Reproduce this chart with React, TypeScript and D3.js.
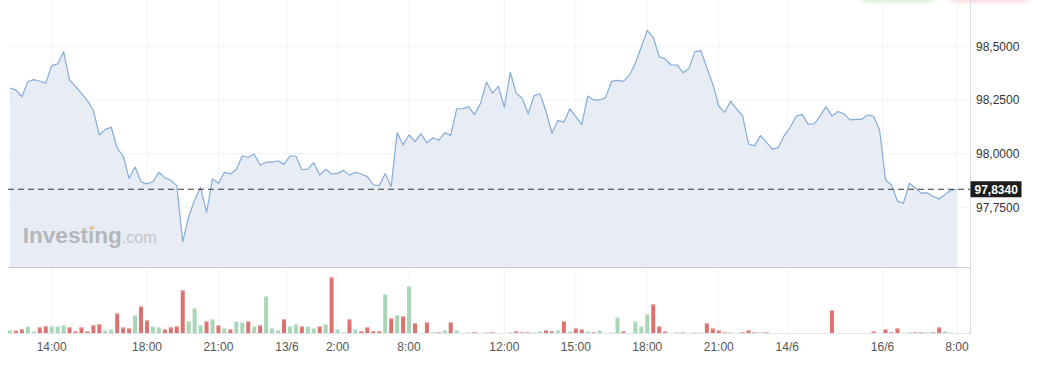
import React from "react";
import * as d3 from "d3";

const prices = [
  98.306, 98.296, 98.265, 98.335, 98.345, 98.337, 98.328, 98.41, 98.418, 98.475,
  98.343, 98.312, 98.281, 98.247, 98.2, 98.087, 98.113, 98.123, 98.025, 97.989,
  97.885, 97.938, 97.869, 97.859, 97.869, 97.913, 97.887, 97.876, 97.851, 97.59,
  97.706, 97.784, 97.843, 97.725, 97.882, 97.862, 97.913, 97.905, 97.927, 97.989,
  97.983, 97.998, 97.946, 97.96, 97.96, 97.967, 97.95, 97.989, 97.989, 97.925,
  97.928, 97.958, 97.9, 97.927, 97.905, 97.908, 97.922, 97.9, 97.913, 97.905,
  97.893, 97.855, 97.851, 97.907, 97.846, 98.098, 98.04, 98.088, 98.056, 98.093,
  98.05, 98.074, 98.062, 98.098, 98.085, 98.209, 98.209, 98.219, 98.182, 98.234,
  98.334, 98.282, 98.313, 98.216, 98.379, 98.281, 98.258, 98.186, 98.27, 98.279,
  98.196, 98.095, 98.155, 98.147, 98.209, 98.172, 98.135, 98.268, 98.25, 98.25,
  98.261, 98.337, 98.341, 98.337, 98.366, 98.421, 98.498, 98.574, 98.542, 98.452,
  98.441, 98.413, 98.413, 98.377, 98.397, 98.475, 98.48, 98.4, 98.324, 98.222,
  98.192, 98.245, 98.208, 98.177, 98.045, 98.036, 98.084, 98.054, 98.02, 98.029,
  98.084, 98.123, 98.174, 98.183, 98.137, 98.138, 98.175, 98.219, 98.175, 98.196,
  98.186, 98.157, 98.16, 98.16, 98.18, 98.174, 98.11, 97.877, 97.854, 97.779,
  97.768, 97.862, 97.841, 97.815, 97.818, 97.8, 97.789, 97.81, 97.829, 97.834,
];

const volumes = [
  8, 7, 11, 20, 5, 17, 20, 20, 20, 23,
  17, 5, 17, 5, 23, 26, 8, 11, 59, 17,
  14, 53, 80, 38, 20, 17, 11, 17, 20, 128,
  35, 74, 23, 35, 41, 23, 14, 11, 35, 32,
  35, 20, 23, 110, 14, 8, 41, 20, 26, 20,
  20, 14, 20, 26, 167, 11, 3, 41, 11, 6,
  17, 6, 6, 117, 44, 54, 50, 141, 30, 0,
  32, 3, 3, 8, 32, 8, 0, 3, 3, 0,
  3, 3, 0, 0, 3, 5, 3, 3, 3, 5,
  8, 5, 8, 35, 5, 14, 11, 5, 3, 8,
  0, 3, 47, 5, 0, 35, 20, 56, 86, 20,
  5, 0, 3, 3, 0, 3, 3, 30, 14, 8,
  3, 3, 0, 3, 8, 3, 3, 3, 0, 0,
  0, 0, 0, 0, 0, 0, 0, 0, 69, 0,
  0, 0, 0, 0, 0, 5, 0, 11, 3, 14,
  0, 3, 3, 3, 3, 3, 17, 5, 3, 0,
];

// 1 = up (green), 0 = down (red)
const volumeUp = [
  1, 0, 0, 1, 1, 0, 0, 1, 1, 1,
  0, 0, 0, 0, 0, 0, 1, 1, 0, 0,
  0, 1, 0, 0, 1, 1, 0, 0, 0, 0,
  1, 1, 1, 0, 1, 0, 1, 0, 1, 1,
  0, 1, 0, 1, 1, 1, 0, 1, 1, 0,
  1, 1, 0, 1, 0, 1, 1, 0, 1, 0,
  0, 0, 0, 1, 0, 1, 0, 1, 0, 1,
  0, 1, 0, 1, 0, 1, 1, 1, 0, 1,
  1, 0, 1, 1, 1, 0, 0, 0, 1, 1,
  0, 0, 1, 0, 1, 0, 0, 1, 0, 1,
  1, 1, 1, 0, 1, 1, 1, 1, 0, 0,
  0, 1, 1, 0, 1, 1, 1, 0, 0, 0,
  0, 1, 1, 0, 0, 0, 1, 0, 1, 1,
  1, 1, 1, 1, 1, 1, 1, 1, 0, 1,
  1, 1, 1, 1, 1, 0, 1, 0, 0, 0,
  1, 1, 0, 0, 1, 0, 0, 1, 1, 1,
];

const xTickLabels = ["14:00", "18:00", "21:00", "13/6", "2:00", "8:00", "12:00", "15:00", "18:00", "21:00", "14/6", "16/6", "8:00"];
const xTickIndex = [7, 23, 35, 46.5, 55, 67, 83, 95, 107, 119, 130.5, 146.5, 159];
const yTickValues = [97.75, 98.0, 98.25, 98.5];
const lastPrice = 97.834;

const W = 1038;
const H = 369;
const PLOT_LEFT = 8;
const AXIS_X = 970;
const PRICE_BOTTOM = 267;
const VOL_BOTTOM = 333;

const locale = d3.formatLocale({ decimal: ",", thousands: ".", grouping: [3], currency: ["", ""] });
const fmt4 = locale.format(".4f");

export default function App() {
  const x = d3.scaleLinear().domain([0, prices.length - 1]).range([10, 957]);
  const y = d3.scaleLinear().domain([97.75, 98.5]).range([207.3, 46.3]);
  const yv = d3.scaleLinear().domain([0, 168]).range([VOL_BOTTOM, 277]);

  const line = d3
    .line<number>()
    .x((_, i) => x(i))
    .y((d) => y(d));
  const area = d3
    .area<number>()
    .x((_, i) => x(i))
    .y0(PRICE_BOTTOM)
    .y1((d) => y(d));

  const font = "'Liberation Sans', Arial, sans-serif";

  return (
    <div style={{ position: "absolute", left: 0, top: 0, width: W, height: H, background: "#fff" }}>
      <svg width={W} height={H} style={{ display: "block" }} fontFamily={font}>
        <defs>
          <filter id="glow" x="-20%" y="-200%" width="140%" height="500%">
            <feGaussianBlur stdDeviation="2.5" />
          </filter>
        </defs>

        {/* top-right partial button glows */}
        <rect x={860} y={-10} width={74} height={11} rx={6} fill="#9ad693" opacity={0.6} filter="url(#glow)" />
        <rect x={950} y={-10} width={78} height={11} rx={6} fill="#f29a9a" opacity={0.6} filter="url(#glow)" />

        {/* vertical grid */}
        {xTickIndex.map((t, i) => (
          <line key={"vg" + i} x1={x(t)} x2={x(t)} y1={0} y2={VOL_BOTTOM} stroke="#f1f3f6" strokeWidth={1} />
        ))}
        {/* horizontal grid */}
        {yTickValues.map((v, i) => (
          <line key={"hg" + i} x1={PLOT_LEFT} x2={AXIS_X} y1={y(v)} y2={y(v)} stroke="#f1f3f6" strokeWidth={1} />
        ))}

        {/* price area + line */}
        <path d={area(prices) || ""} fill="#e8edf5" />
        <path d={line(prices) || ""} fill="none" stroke="#84acd8" strokeWidth={1.2} strokeLinejoin="round" />

        {/* watermark */}
        <g>
          <text x={22.7} y={242.5} fontSize={22.6} fontWeight="bold" fill="#b3b7bc">
            Investing
            <tspan fontSize={16} fontWeight="normal" fill="#c1c5ca">.com</tspan>
          </text>
          <rect x={90.3} y={226.2} width={3.8} height={3.6} fill="#f2c488" />
        </g>

        {/* separator and baselines */}
        <line x1={PLOT_LEFT} x2={AXIS_X} y1={PRICE_BOTTOM + 0.5} y2={PRICE_BOTTOM + 0.5} stroke="#c9cbcf" strokeWidth={1} />
        <line x1={PLOT_LEFT} x2={AXIS_X} y1={VOL_BOTTOM + 0.5} y2={VOL_BOTTOM + 0.5} stroke="#e1e4ea" strokeWidth={1} />
        <line x1={AXIS_X + 0.5} x2={AXIS_X + 0.5} y1={0} y2={VOL_BOTTOM + 1} stroke="#d9dce4" strokeWidth={1} />

        {/* volume bars */}
        {volumes.map((v, i) => {
          if (v <= 0) return null;
          const up = volumeUp[i] === 1;
          const top = yv(v);
          const h = VOL_BOTTOM - top;
          const main = up ? "#a8d5b6" : "#dc726e";
          const cap = up ? "#d0eadb" : "#eeb0ad";
          return (
            <g key={"vb" + i}>
              <rect x={x(i) - 2} y={top} width={4} height={h} fill={main} />
              <rect x={x(i) - 2} y={top} width={4} height={Math.min(1, h)} fill={cap} />
            </g>
          );
        })}

        {/* last price dashed line */}
        <line x1={PLOT_LEFT} x2={AXIS_X} y1={y(lastPrice)} y2={y(lastPrice)} stroke="#3a3a3a" strokeWidth={1} strokeDasharray="6,4" />

        {/* y-axis labels */}
        {yTickValues.map((v, i) => (
          <text key={"yl" + i} x={976} y={y(v)} dy="0.35em" fontSize={12} fill="#333">
            {fmt4(v)}
          </text>
        ))}

        {/* last price label */}
        <rect x={970.5} y={y(lastPrice) - 8} width={51} height={16} fill="#1c1c1c" />
        <text x={974.5} y={y(lastPrice)} dy="0.36em" fontSize={12} fontWeight="bold" fill="#fff">
          {fmt4(lastPrice)}
        </text>

        {/* x-axis labels */}
        {xTickIndex.map((t, i) => (
          <text key={"xl" + i} x={x(t)} y={351} textAnchor="middle" fontSize={12} fill="#555">
            {xTickLabels[i]}
          </text>
        ))}
      </svg>
    </div>
  );
}
